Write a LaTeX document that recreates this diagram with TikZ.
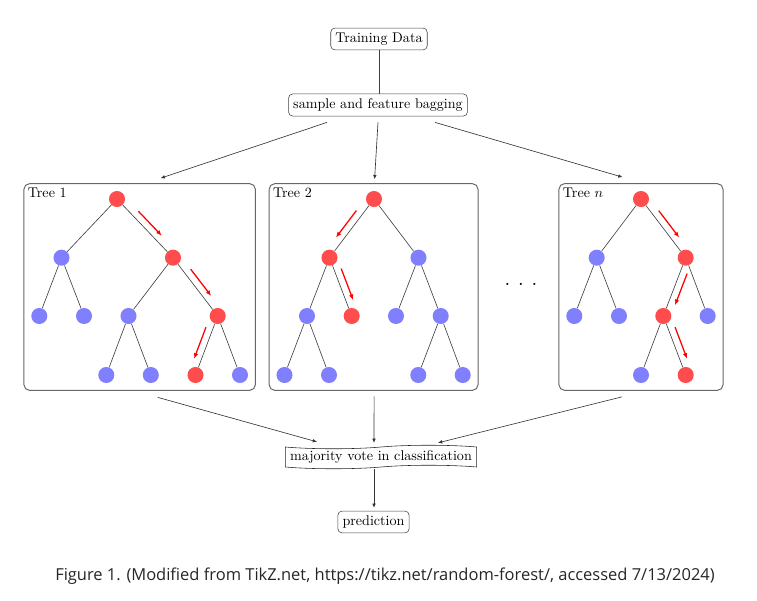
\documentclass[tikz,border=0pt]{standalone}
\usepackage{amsmath}
\usepackage{xcolor}
\usepackage{fontspec}
\newfontfamily\capfont{Open Sans}
\usepackage{tikz}
\usetikzlibrary{calc,fit,shapes.symbols,arrows.meta}

\newcommand{\redpath}[3]{%
	\draw[redarrow] ($(#1)!.5!(#2)!12pt!(#1)!5pt!#3:(#2)$) -- ($(#1)!.5!(#2)!12pt!(#2)!-5pt!#3:(#1)$);}

\begin{document}
\begin{tikzpicture}[x=0.71pt,y=-0.71pt,
		databox/.style={draw=black!75,rounded corners=3pt,inner sep=3.33pt},
		votebox/.style={draw=black!85,tape,tape bend height=2.5pt,inner xsep=3.33pt,inner ysep=1.3pt},
		treebox/.style={draw=black!60,line width=0.7pt,rounded corners=4pt,inner sep=5pt},
		ball/.style={circle,inner sep=0pt,minimum size=11.4pt},
		bluenode/.style={ball,fill=blue!50},
		rednode/.style={ball,fill=red!70},
		treeline/.style={draw=black!75,line width=0.45pt},
		flow/.style={draw=black!80,line width=0.45pt,-{Latex[length=3pt,width=2.6pt]}},
		redarrow/.style={red,line width=0.9pt,-{Latex[length=4pt,width=3.2pt]}}]
	\useasboundingbox (0,0) rectangle (757,601);
	\node[databox] (td) at (379,39) {Training Data};
	\node[databox] (bag) at (378,105) {sample and feature bagging};
	\draw[treeline] (td.south) -- (td.south |- bag.north);

	\node[rednode] (t1a) at (117,199) {};
	\node[bluenode] (t1b) at (61.5,257.7) {};
	\node[rednode] (t1c) at (173,257.7) {};
	\node[bluenode] (t1d) at (39.3,316) {};
	\node[bluenode] (t1e) at (84,316) {};
	\node[bluenode] (t1f) at (128.5,316) {};
	\node[rednode] (t1g) at (217.7,316) {};
	\node[bluenode] (t1h) at (106.3,375) {};
	\node[bluenode] (t1i) at (150.8,375) {};
	\node[rednode] (t1j) at (195.5,375) {};
	\node[bluenode] (t1k) at (240,375) {};
	\draw[treeline] (t1a) -- (t1b) (t1a) -- (t1c) (t1b) -- (t1d) (t1b) -- (t1e) (t1c) -- (t1f)
		(t1c) -- (t1g) (t1f) -- (t1h) (t1f) -- (t1i) (t1g) -- (t1j) (t1g) -- (t1k);
	\node[treebox,fit=(t1a)(t1d)(t1k)] (tree1) {};
	\node[anchor=north west,inner sep=3pt] (t1name) at (tree1.north west) {Tree 1};
	\redpath{t1a}{t1c}{90}
	\redpath{t1c}{t1g}{90}
	\redpath{t1g}{t1j}{-90}

	\node[rednode] (t2a) at (374,199) {};
	\node[rednode] (t2b) at (329.5,257.7) {};
	\node[bluenode] (t2c) at (418.5,257.7) {};
	\node[bluenode] (t2d) at (307,316) {};
	\node[rednode] (t2e) at (351.7,316) {};
	\node[bluenode] (t2f) at (396,316) {};
	\node[bluenode] (t2g) at (440.7,316) {};
	\node[bluenode] (t2h) at (284.5,375) {};
	\node[bluenode] (t2i) at (329,375) {};
	\node[bluenode] (t2j) at (418.3,375) {};
	\node[bluenode] (t2k) at (462.7,375) {};
	\draw[treeline] (t2a) -- (t2b) (t2a) -- (t2c) (t2b) -- (t2d) (t2b) -- (t2e) (t2c) -- (t2f)
		(t2c) -- (t2g) (t2d) -- (t2h) (t2d) -- (t2i) (t2g) -- (t2j) (t2g) -- (t2k);
	\node[treebox,fit=(t2a)(t2h)(t2k)] (tree2) {};
	\node[anchor=north west,inner sep=3pt] (t2name) at (tree2.north west) {Tree 2};
	\redpath{t2a}{t2b}{-90}
	\redpath{t2b}{t2e}{90}

	\node[rednode] (tna) at (641,199) {};
	\node[bluenode] (tnb) at (596.7,257.7) {};
	\node[rednode] (tnc) at (685.7,257.7) {};
	\node[bluenode] (tnd) at (574.3,316) {};
	\node[bluenode] (tne) at (619,316) {};
	\node[rednode] (tnf) at (663.3,316) {};
	\node[bluenode] (tng) at (707.7,316) {};
	\node[bluenode] (tnh) at (641,375) {};
	\node[rednode] (tni) at (685.7,375) {};
	\draw[treeline] (tna) -- (tnb) (tna) -- (tnc) (tnb) -- (tnd) (tnb) -- (tne) (tnc) -- (tnf)
		(tnc) -- (tng) (tnf) -- (tnh) (tnf) -- (tni);
	\node[treebox,fit=(tna)(tnd)(tng)(tnh)] (treen) {};
	\node[anchor=north west,inner sep=3pt] (tnname) at (treen.north west) {Tree $n$};
	\redpath{tna}{tnc}{90}
	\redpath{tnc}{tnf}{90}
	\redpath{tnf}{tni}{90}

	\node (dots) at (521,285) {\Large${\cdot}\hspace{5.6pt}{\cdot}\hspace{5.6pt}{\cdot}$};

	\draw[flow] ($(bag.south)+(-51,6)$) -- ($(tree1.north)+(21,-5)$);
	\draw[flow] ($(bag.south)+(0,6)$) -- ($(tree2.north)+(1,-4)$);
	\draw[flow] ($(bag.south)+(57,6)$) -- ($(treen.north)+(-18.5,-6)$);

	\node[votebox] (vote) at (381,457) {majority vote in classification};
	\node[databox] (pred) at (373.5,522) {prediction};
	\draw[flow] ($(tree1.south)+(18,6.5)$) -- ($(vote.north)+(-64,-5)$);
	\draw[flow] ($(tree2.south)+(0.5,5.5)$) -- ($(vote.north)+(-7,-4)$);
	\draw[flow] ($(treen.south)+(-19,6)$) -- ($(vote.north)+(57,-4)$);
	\draw[flow] ($(vote.south -| pred.north)+(0.5,2)$) -- ($(pred.north)+(0.5,-3)$);

	\node[font=\capfont\fontsize{11.7}{14}\selectfont,text=black!85] (caption) at (385,576)
		{Figure 1. (Modified from TikZ.net, https://tikz.net/random-forest/, accessed 7/13/2024)};
\end{tikzpicture}
\end{document}
